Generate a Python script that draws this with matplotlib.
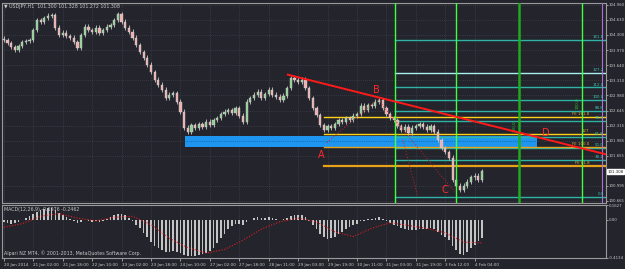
import numpy as np
import matplotlib.pyplot as plt

# data: USDJPY H1 closes (one value per two hourly bars)
closes = [104.19, 104.12, 104.04, 103.97, 104.06, 104.15, 104.17, 104.19, 104.41, 104.63,
          104.59, 104.67, 104.72, 104.74, 104.46, 104.30, 104.35, 104.28, 104.24, 104.15,
          104.02, 104.30, 104.48, 104.41, 104.37, 104.46, 104.35, 104.41, 104.48, 104.52,
          104.63, 104.76, 104.59, 104.46, 104.37, 104.24, 104.08, 103.93, 103.80, 103.65,
          103.49, 103.32, 103.21, 103.10, 102.92, 102.99, 103.03, 102.84, 102.62, 102.27,
          102.18, 102.33, 102.27, 102.35, 102.29, 102.40, 102.33, 102.44, 102.48, 102.57,
          102.62, 102.66, 102.59, 102.70, 102.53, 102.40, 102.84, 102.92, 102.99, 103.06,
          102.92, 103.01, 103.10, 102.99, 102.95, 102.88, 102.97, 103.14, 103.36, 103.32,
          103.28, 103.32, 103.14, 102.92, 102.70, 102.55, 102.33, 102.22, 102.31, 102.27,
          102.35, 102.44, 102.40, 102.48, 102.44, 102.53, 102.57, 102.75, 102.66, 102.77,
          102.75, 102.84, 102.88, 102.70, 102.57, 102.48, 102.44, 102.31, 102.22, 102.29,
          102.15, 102.27, 102.31, 102.35, 102.29, 102.22, 102.31, 102.18, 102.00, 101.82,
          101.74, 101.61, 101.13, 101.00, 100.91, 101.00, 101.09, 101.18, 101.22, 101.13,
          101.31]
first_open = 104.22

macd_hist = [-0.02, -0.03, -0.04, -0.03, -0.02, 0.00, 0.02, 0.04, 0.06, 0.09,
             0.11, 0.12, 0.13, 0.13, 0.11, 0.08, 0.05, 0.03, 0.01, -0.01,
             -0.03, -0.02, 0.00, -0.01, -0.02, -0.01, -0.02, -0.01, 0.01, 0.03,
             0.05, 0.07, 0.07, 0.05, 0.02, -0.01, -0.05, -0.09, -0.14, -0.19,
             -0.24, -0.28, -0.31, -0.33, -0.35, -0.35, -0.34, -0.35, -0.36, -0.38,
             -0.39, -0.39, -0.39, -0.38, -0.37, -0.36, -0.34, -0.30, -0.25, -0.20,
             -0.15, -0.10, -0.07, -0.04, -0.04, -0.05, -0.02, 0.00, 0.02, 0.03,
             0.02, 0.02, 0.03, 0.02, 0.01, 0.00, 0.01, 0.02, 0.04, 0.05,
             0.05, 0.05, 0.03, -0.01, -0.06, -0.10, -0.15, -0.19, -0.21, -0.20,
             -0.18, -0.15, -0.13, -0.10, -0.08, -0.06, -0.04, -0.01, -0.01, 0.01,
             0.01, 0.02, 0.03, 0.01, -0.01, -0.03, -0.05, -0.07, -0.09, -0.10,
             -0.11, -0.11, -0.11, -0.10, -0.10, -0.10, -0.09, -0.10, -0.13, -0.16,
             -0.19, -0.22, -0.28, -0.33, -0.37, -0.38, -0.35, -0.31, -0.27, -0.23,
             -0.20]
sig_idx = list(range(0, 131, 5))
sig_val = [-0.08, -0.04, 0.04, 0.07, 0.02, -0.01, 0.03, 0.04, -0.05, -0.20,
           -0.30, -0.36, -0.32, -0.22, -0.10, -0.02, 0.02, -0.02, -0.13, -0.18,
           -0.09, -0.03, -0.06, -0.09, -0.14, -0.24, -0.25]

tick_idx = list(range(0, 129, 8))
tick_lab = ["20 Jan 2014", "21 Jan 02:00", "21 Jan 18:00", "22 Jan 10:00", "23 Jan 02:00",
            "23 Jan 18:00", "24 Jan 10:00", "27 Jan 02:00", "27 Jan 18:00", "28 Jan 11:00",
            "29 Jan 03:00", "29 Jan 19:00", "30 Jan 11:00", "31 Jan 03:00", "31 Jan 19:00",
            "3 Feb 12:00", "4 Feb 04:00"]
price_ticks = [104.960, 104.630, 104.300, 103.970, 103.640, 103.310, 102.980, 102.645,
               102.315, 101.985, 101.655, 100.995, 100.665]
last_price = 101.308

# analysis objects
fib_levels = [100.75, 101.56, 101.82, 102.07, 102.42, 102.64, 102.88, 103.15, 103.46, 104.20]
fib_names = ["0.0", "38.2", "50.0", "61.8", "78.6", "88.6", "100.0", "112.8", "127.2", "161.8"]
fe_levels = [101.43, 101.85, 102.13, 102.51]
fe_names = ["FE 61.8", "FE 100.0", "127", "FE 161.8"]
fe_start = 87.0
fib_start = 106.3
vlines = [106.3, 122.9, 140.0, 157.1]
box = (49.2, 144.9, 101.85, 102.09)
trend = ([77.2, 164.2], [103.43, 101.675])
letters = {"A": (86.2, 101.67), "B": (101.4, 103.10), "C": (119.9, 100.91), "D": (147.3, 102.16)}
dots = [([87.8, 100.9], [101.94, 102.84]), ([101.7, 122.6], [102.88, 100.86]),
        ([108.5, 112.5], [102.00, 100.76])]

bg = '#23242c'
grid_c = '#4b4c57'
txt_c = '#c8c8c8'

fig = plt.figure(figsize=(6.25, 2.69), dpi=100, facecolor=bg)
ax = fig.add_axes([0.0032, 0.2454, 0.9664, 0.7435], facecolor=bg)
ax2 = fig.add_axes([0.0032, 0.0409, 0.9664, 0.197], facecolor=bg, sharex=ax)

xmax = 163.7
for a in (ax, ax2):
    a.set_xlim(-0.5, xmax)
    for s in a.spines.values():
        s.set_color('#9a9a9a')
        s.set_linewidth(0.8)
    a.yaxis.tick_right()
    a.tick_params(colors=txt_c, labelsize=2.8, length=1.2, width=0.5, pad=0.5)
    for t in tick_idx:
        a.axvline(t, color=grid_c, lw=0.5, ls=(0, (1, 2)), zorder=0)

# candles
opens = [first_open] + closes[:-1]
for i, (o, c) in enumerate(zip(opens, closes)):
    hi = max(o, c) + 0.05
    lo = min(o, c) - 0.05
    ax.vlines(i, lo, hi, color='#c8c8c8', lw=0.6, zorder=3)
    col = '#8fd18f' if c >= o else '#f0b0b0'
    ax.bar(i, max(abs(c - o), 0.012), bottom=min(o, c), width=0.6, color=col,
           edgecolor='#d0d0d0', linewidth=0.3, zorder=4)

ax.set_ylim(100.62, 105.00)
ax.set_yticks(price_ticks)
ax.set_yticklabels(["%.3f" % p for p in price_ticks])
for p in price_ticks:
    ax.axhline(p, color=grid_c, lw=0.5, ls=(0, (1, 2)), zorder=0)
ax.tick_params(axis='x', length=0, labelbottom=False)

# blue zone
ax.add_patch(plt.Rectangle((box[0], box[2]), box[1] - box[0], box[3] - box[2],
                           facecolor='#1e96f0', edgecolor='none', zorder=2))
ax.plot([box[0], box[1]], [(box[2] + box[3]) / 2] * 2, color='#0a4f8a', lw=0.5, ls=':', zorder=2)

# fib retracement lines
for lv, nm in zip(fib_levels, fib_names):
    col = '#a8f0f0' if nm == "127.2" else '#2fb3a6'
    ax.plot([fib_start, xmax], [lv, lv], color=col, lw=1.0, zorder=2)
    ax.text(xmax - 0.6, lv + 0.02, nm, color='#3fc4b5', fontsize=2.8, ha='right', va='bottom', zorder=6)
for lv, nm in zip(fe_levels, fe_names):
    col = '#e8a21a' if nm in ("FE 61.8", "FE 100.0") else '#ffd21a'
    lw = 1.6 if nm == "FE 61.8" else 1.0
    ax.plot([fe_start, xmax], [lv, lv], color=col, lw=lw, zorder=2)
    ax.text(xmax - 4.5, lv + 0.02, nm, color='#e8b030', fontsize=2.8, ha='right', va='bottom', zorder=6)

# vertical time lines
ax.axvline(vlines[0], color='#40ff40', lw=1.0, zorder=5)
ax.axvline(vlines[1], color='#40ff40', lw=1.0, zorder=5)
ax.axvline(vlines[2], color='#1faa1f', lw=1.8, zorder=5)
ax.axvline(vlines[3], color='#40ff40', lw=1.0, zorder=5)
ax.axvline(162.5, color='#b070d0', lw=0.8, zorder=5)
ax.text(vlines[2] - 0.6, 102.3, "100.0", color='#20d020', fontsize=3.0, rotation=90, ha='right', va='center', zorder=6)
ax.text(vlines[3] - 0.6, 102.8, "100.0", color='#20d020', fontsize=3.0, rotation=90, ha='right', va='center', zorder=6)
ax.text(vlines[0] + 0.4, 102.12, "0", color='#20d020', fontsize=3.0, rotation=90, ha='left', va='center', zorder=6)

# trendline, dotted waves, letters
ax.plot(trend[0], trend[1], color='#ff1a1a', lw=1.4, zorder=6)
for xs, ys in dots:
    ax.plot(xs, ys, color='#d02020', lw=0.7, ls=(0, (1, 2)), zorder=6)
for k, (xi, yi) in letters.items():
    ax.text(xi, yi, k, color='#ff2a2a', fontsize=7, ha='center', va='center', zorder=7)

# header and price box
ax.text(0.004, 0.995, "\u25BC USDJPY,H1  101.300 101.328 101.272 101.308", transform=ax.transAxes,
        color=txt_c, fontsize=3.4, ha='left', va='top')
ax.text(xmax + 0.4, last_price, "101.308", color='#202020', fontsize=2.8, ha='left', va='center',
        bbox=dict(boxstyle='square,pad=0.1', fc='white', ec='white'), clip_on=False, zorder=8)

# MACD panel
ax2.bar(range(len(macd_hist)), macd_hist, width=0.45, color='#c4c4c4', zorder=3)
ax2.plot(sig_idx, sig_val, color='#e02020', lw=0.8, ls=(0, (1, 1.5)), zorder=4)
ax2.set_ylim(-0.4134, 0.1627)
ax2.set_yticks([0.1627, 0.0, -0.4134])
ax2.set_yticklabels(["0.1627", "0.00", "-0.4134"])
ax2.set_xticks(tick_idx)
ax2.set_xticklabels(tick_lab)
for t in ax2.get_xticklabels():
    t.set_ha('left')
ax2.tick_params(axis='x', length=2, pad=1.5, labelsize=3.0)
ax2.text(0.004, 0.96, "MACD(12,26,9) -0.1976 -0.2462", transform=ax2.transAxes,
         color=txt_c, fontsize=3.4, ha='left', va='top')
ax2.text(0.004, 0.03, "Alpari NZ MT4, \u00a9 2001-2013, MetaQuotes Software Corp.", transform=ax2.transAxes,
         color=txt_c, fontsize=3.4, ha='left', va='bottom')

fig.savefig('out.png', dpi=100, facecolor=bg)
